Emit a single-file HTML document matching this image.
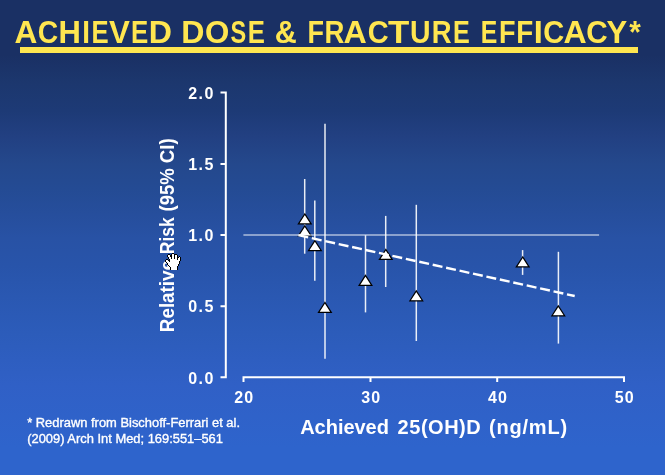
<!DOCTYPE html>
<html><head><meta charset="utf-8">
<style>
html,body{margin:0;padding:0;width:665px;height:475px;overflow:hidden;background:#1a3064;}
svg{display:block;position:absolute;left:0;top:0;will-change:transform;}
text{font-family:"Liberation Sans",sans-serif;}
</style></head>
<body>
<svg width="665" height="475" viewBox="0 0 665 475">
<defs>
<linearGradient id="bg" x1="0" y1="0" x2="0" y2="475" gradientUnits="userSpaceOnUse">
<stop offset="0" stop-color="#1a3064"/>
<stop offset="0.1158" stop-color="#1a3064"/>
<stop offset="0.1747" stop-color="#1c376e"/>
<stop offset="0.2337" stop-color="#1d3a76"/>
<stop offset="0.2884" stop-color="#224082"/>
<stop offset="0.3442" stop-color="#24488c"/>
<stop offset="0.3979" stop-color="#244b94"/>
<stop offset="0.4495" stop-color="#264e9c"/>
<stop offset="0.5032" stop-color="#2852a5"/>
<stop offset="0.5600" stop-color="#2854aa"/>
<stop offset="0.6263" stop-color="#2a58b2"/>
<stop offset="0.7021" stop-color="#2c5cba"/>
<stop offset="0.8116" stop-color="#3060c6"/>
<stop offset="0.9411" stop-color="#2e64cc"/>
<stop offset="1" stop-color="#2e64cc"/>
</linearGradient>
</defs>
<rect x="0" y="0" width="665" height="475" fill="url(#bg)"/>

<!-- title -->
<g fill="#ffe650" font-weight="bold" font-size="30.6">
<text transform="translate(14.41 42.9) scale(1.033 1)">A</text>
<text transform="translate(37.74 42.9) scale(0.925 1)">C</text>
<text transform="translate(58.53 42.9) scale(1.012 1)">H</text>
<text transform="translate(82.34 42.9) scale(0.907 1)">I</text>
<text transform="translate(91.58 42.9) scale(0.839 1)">E</text>
<text transform="translate(108.89 42.9) scale(1.020 1)">V</text>
<text transform="translate(131.07 42.9) scale(0.845 1)">E</text>
<text transform="translate(148.75 42.9) scale(1.050 1)">D</text>
<text transform="translate(181.15 42.9) scale(1.050 1)">D</text>
<text transform="translate(204.92 42.9) scale(1.021 1)">O</text>
<text transform="translate(230.62 42.9) scale(0.769 1)">S</text>
<text transform="translate(247.68 42.9) scale(0.839 1)">E</text>
<text transform="translate(274.86 42.9) scale(0.995 1)">&amp;</text>
<text transform="translate(307.59 42.9) scale(0.882 1)">F</text>
<text transform="translate(324.46 42.9) scale(0.901 1)">R</text>
<text transform="translate(343.60 42.9) scale(1.052 1)">A</text>
<text transform="translate(367.71 42.9) scale(0.945 1)">C</text>
<text transform="translate(387.91 42.9) scale(1.138 1)">T</text>
<text transform="translate(409.89 42.9) scale(0.930 1)">U</text>
<text transform="translate(431.77 42.9) scale(0.896 1)">R</text>
<text transform="translate(452.92 42.9) scale(0.821 1)">E</text>
<text transform="translate(480.64 42.9) scale(0.810 1)">E</text>
<text transform="translate(499.09 42.9) scale(0.882 1)">F</text>
<text transform="translate(516.34 42.9) scale(0.908 1)">F</text>
<text transform="translate(533.72 42.9) scale(1.066 1)">I</text>
<text transform="translate(543.21 42.9) scale(0.950 1)">C</text>
<text transform="translate(563.60 42.9) scale(1.047 1)">A</text>
<text transform="translate(586.18 42.9) scale(0.970 1)">C</text>
<text transform="translate(606.47 42.9) scale(1.016 1)">Y</text>
<text transform="translate(629.21 42.9) scale(0.967 1)">*</text>
</g>
<rect x="20" y="47" width="618" height="6" fill="#ffe650"/>

<!-- axes -->
<g stroke="#ffffff" stroke-width="2" fill="none">
<path d="M220.5 92.5 H225.8 V377.3 H220.5"/>
<path d="M220.5 164 H225.8 M220.5 235 H225.8 M220.5 306.2 H225.8"/>
<path d="M243.5 382 V377.3 H624 V382 M370.5 377.3 V382 M497.2 377.3 V382"/>
</g>

<!-- tick labels -->
<g fill="#ffffff" font-weight="bold" font-size="16">
<text x="188.3" y="98.5" textLength="25" lengthAdjust="spacing">2.0</text>
<text x="188.3" y="169.8" textLength="25" lengthAdjust="spacing">1.5</text>
<text x="188.3" y="241.0" textLength="25" lengthAdjust="spacing">1.0</text>
<text x="188.3" y="312.2" textLength="25" lengthAdjust="spacing">0.5</text>
<text x="188.3" y="383.5" textLength="25" lengthAdjust="spacing">0.0</text>
<text x="234.2" y="403" textLength="19" lengthAdjust="spacing">20</text>
<text x="361.2" y="403" textLength="19" lengthAdjust="spacing">30</text>
<text x="487.9" y="403" textLength="19" lengthAdjust="spacing">40</text>
<text x="614.7" y="403" textLength="19" lengthAdjust="spacing">50</text>
</g>

<!-- axis titles -->
<g fill="#ffffff" font-weight="bold" font-size="20">
<text x="300.20" y="433.8" textLength="88.72" lengthAdjust="spacing">Achieved</text>
<text x="397.61" y="433.8" textLength="83.13" lengthAdjust="spacing">25(OH)D</text>
<text x="488.90" y="433.8" textLength="78.29" lengthAdjust="spacing">(ng/mL)</text>
</g>
<g transform="translate(174.4 340) rotate(-90)" fill="#ffffff" font-weight="bold" font-size="20.5">
<text transform="translate(7.84 0) scale(0.9183 1)">Relative</text>
<text transform="translate(85.83 0) scale(0.8510 1)">Risk</text>
<text transform="translate(128.58 0) scale(0.9029 1)">(95%</text>
<text transform="translate(176.84 0) scale(0.9071 1)">CI)</text>
</g>

<!-- footnote -->
<g fill="#ffffff" stroke="#ffffff" stroke-width="0.35" font-size="12.2">
<text x="27.2" y="426.8" textLength="212.8" lengthAdjust="spacingAndGlyphs">* Redrawn from Bischoff-Ferrari et al.</text>
<text x="27.2" y="443" textLength="195.8" lengthAdjust="spacingAndGlyphs">(2009) Arch Int Med; 169:551–561</text>
</g>

<!-- error bars -->
<g stroke="#ffffff" stroke-opacity="0.9" stroke-width="1.5">
<path d="M304.7 179 V253.7"/>
<path d="M314.8 200.5 V280.8"/>
<path d="M325 123.8 V358.8"/>
<path d="M365.5 235.2 V312.4"/>
<path d="M385.7 215.9 V287"/>
<path d="M416.3 204.8 V341"/>
<path d="M522.6 250.1 V274.9"/>
<path d="M558.4 251.8 V343.6"/>
</g>

<!-- triangles -->
<g fill="#ffffff" stroke="#000000" stroke-width="1.25" stroke-linejoin="miter">
<path d="M304.8 214.00 L298.45 223.97 H311.15 Z"/>
<path d="M304.8 225.80 L298.45 235.78 H311.15 Z"/>
<path d="M314.9 240.55 L308.55 250.53 H321.25 Z"/>
<path d="M324.9 302.50 L318.55 312.47 H331.25 Z"/>
<path d="M365.5 275.45 L359.15 285.42 H371.85 Z"/>
<path d="M385.8 249.50 L379.45 259.47 H392.15 Z"/>
<path d="M416.3 290.80 L409.95 300.77 H422.65 Z"/>
<path d="M522.7 257.00 L516.35 266.97 H529.05 Z"/>
<path d="M558.3 305.80 L551.95 315.77 H564.65 Z"/>
</g>

<!-- reference line -->
<path d="M243.4 235 H599.1" stroke="#ffffff" stroke-opacity="0.62" stroke-width="1.7"/>
<!-- dashed trend -->
<path d="M298.4 235.2 L574.7 296" stroke="#ffffff" stroke-width="2.4" stroke-dasharray="10 3.75"/>

<!-- hand cursor -->
<g transform="translate(165 253)" shape-rendering="crispEdges">
<path fill="#ffffff" d="M7 1h1v1h-1zM8 1h1v1h-1zM3 2h1v1h-1zM4 2h1v1h-1zM7 2h1v1h-1zM8 2h1v1h-1zM10 2h1v1h-1zM11 2h1v1h-1zM3 3h1v1h-1zM4 3h1v1h-1zM7 3h1v1h-1zM8 3h1v1h-1zM10 3h1v1h-1zM11 3h1v1h-1zM4 4h1v1h-1zM5 4h1v1h-1zM7 4h1v1h-1zM8 4h1v1h-1zM10 4h1v1h-1zM11 4h1v1h-1zM14 4h1v1h-1zM4 5h1v1h-1zM5 5h1v1h-1zM7 5h1v1h-1zM8 5h1v1h-1zM10 5h1v1h-1zM11 5h1v1h-1zM13 5h1v1h-1zM14 5h1v1h-1zM5 6h1v1h-1zM6 6h1v1h-1zM7 6h1v1h-1zM8 6h1v1h-1zM9 6h1v1h-1zM10 6h1v1h-1zM11 6h1v1h-1zM13 6h1v1h-1zM14 6h1v1h-1zM1 7h1v1h-1zM2 7h1v1h-1zM5 7h1v1h-1zM6 7h1v1h-1zM7 7h1v1h-1zM8 7h1v1h-1zM9 7h1v1h-1zM10 7h1v1h-1zM11 7h1v1h-1zM12 7h1v1h-1zM13 7h1v1h-1zM14 7h1v1h-1zM1 8h1v1h-1zM2 8h1v1h-1zM3 8h1v1h-1zM5 8h1v1h-1zM6 8h1v1h-1zM7 8h1v1h-1zM8 8h1v1h-1zM9 8h1v1h-1zM10 8h1v1h-1zM11 8h1v1h-1zM12 8h1v1h-1zM13 8h1v1h-1zM2 9h1v1h-1zM3 9h1v1h-1zM4 9h1v1h-1zM5 9h1v1h-1zM6 9h1v1h-1zM7 9h1v1h-1zM8 9h1v1h-1zM9 9h1v1h-1zM10 9h1v1h-1zM11 9h1v1h-1zM12 9h1v1h-1zM13 9h1v1h-1zM3 10h1v1h-1zM4 10h1v1h-1zM5 10h1v1h-1zM6 10h1v1h-1zM7 10h1v1h-1zM8 10h1v1h-1zM9 10h1v1h-1zM10 10h1v1h-1zM11 10h1v1h-1zM12 10h1v1h-1zM13 10h1v1h-1zM3 11h1v1h-1zM4 11h1v1h-1zM5 11h1v1h-1zM6 11h1v1h-1zM7 11h1v1h-1zM8 11h1v1h-1zM9 11h1v1h-1zM10 11h1v1h-1zM11 11h1v1h-1zM12 11h1v1h-1zM4 12h1v1h-1zM5 12h1v1h-1zM6 12h1v1h-1zM7 12h1v1h-1zM8 12h1v1h-1zM9 12h1v1h-1zM10 12h1v1h-1zM11 12h1v1h-1zM12 12h1v1h-1zM5 13h1v1h-1zM6 13h1v1h-1zM7 13h1v1h-1zM8 13h1v1h-1zM9 13h1v1h-1zM10 13h1v1h-1zM11 13h1v1h-1zM6 14h1v1h-1zM7 14h1v1h-1zM8 14h1v1h-1zM9 14h1v1h-1zM10 14h1v1h-1zM11 14h1v1h-1zM6 15h1v1h-1zM7 15h1v1h-1zM8 15h1v1h-1zM9 15h1v1h-1zM10 15h1v1h-1zM11 15h1v1h-1zM6 16h1v1h-1zM7 16h1v1h-1zM8 16h1v1h-1zM9 16h1v1h-1zM10 16h1v1h-1zM11 16h1v1h-1z"/>
<path fill="#000000" d="M7 0h1v1h-1zM8 0h1v1h-1zM3 1h1v1h-1zM4 1h1v1h-1zM6 1h1v1h-1zM9 1h1v1h-1zM10 1h1v1h-1zM11 1h1v1h-1zM2 2h1v1h-1zM5 2h1v1h-1zM6 2h1v1h-1zM9 2h1v1h-1zM12 2h1v1h-1zM2 3h1v1h-1zM5 3h1v1h-1zM6 3h1v1h-1zM9 3h1v1h-1zM12 3h1v1h-1zM14 3h1v1h-1zM3 4h1v1h-1zM6 4h1v1h-1zM9 4h1v1h-1zM12 4h1v1h-1zM13 4h1v1h-1zM15 4h1v1h-1zM3 5h1v1h-1zM6 5h1v1h-1zM9 5h1v1h-1zM12 5h1v1h-1zM15 5h1v1h-1zM1 6h1v1h-1zM2 6h1v1h-1zM4 6h1v1h-1zM12 6h1v1h-1zM15 6h1v1h-1zM0 7h1v1h-1zM3 7h1v1h-1zM4 7h1v1h-1zM15 7h1v1h-1zM0 8h1v1h-1zM4 8h1v1h-1zM14 8h1v1h-1zM1 9h1v1h-1zM14 9h1v1h-1zM2 10h1v1h-1zM14 10h1v1h-1zM2 11h1v1h-1zM13 11h1v1h-1zM3 12h1v1h-1zM13 12h1v1h-1zM4 13h1v1h-1zM12 13h1v1h-1zM5 14h1v1h-1zM12 14h1v1h-1zM5 15h1v1h-1zM12 15h1v1h-1zM5 16h1v1h-1zM12 16h1v1h-1z"/>
</g>
</svg>
</body></html>
